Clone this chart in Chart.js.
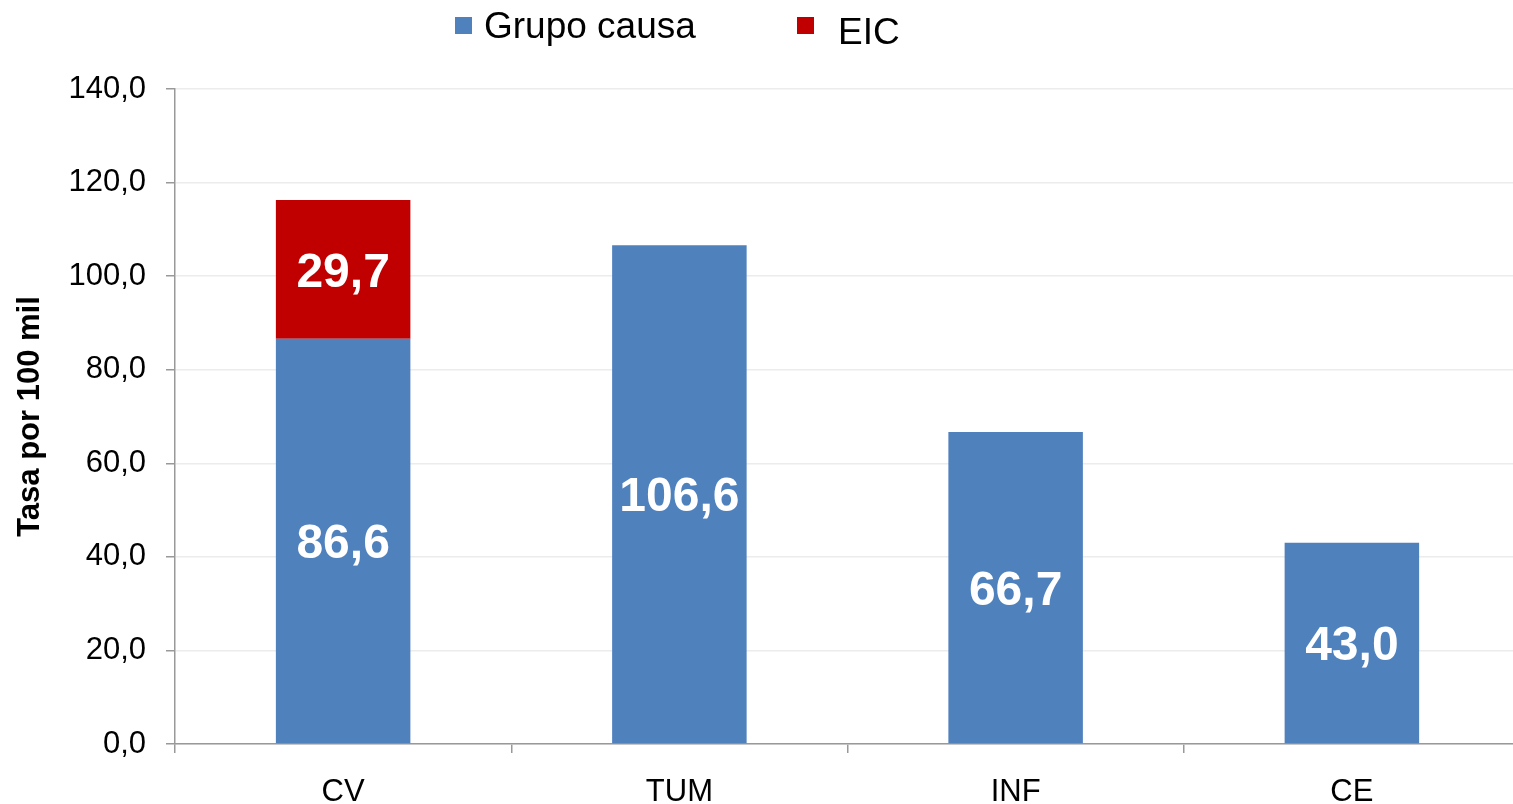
<!DOCTYPE html>
<html>
<head>
<meta charset="utf-8">
<script src="https://cdn.jsdelivr.net/npm/chart.js@4/dist/chart.umd.min.js"></script>
<style>
html,body{margin:0;padding:0;background:#fff;overflow:hidden;}
#wrap{width:1513px;height:804px;position:relative;overflow:hidden;}
</style>
</head>
<body>
<div id="wrap"><canvas id="c" width="1520" height="804"></canvas></div>
<script>
const categories = ['CV', 'TUM', 'INF', 'CE'];
const grupoCausa = [86.6, 106.6, 66.7, 43.0];
const eic = [29.7, null, null, null];
const seriesNames = ['Grupo causa', 'EIC'];
const yTicks = [0, 20, 40, 60, 80, 100, 120, 140];
const yTitle = 'Tasa por 100 mil';

const FONT = 'Arial, "Liberation Sans", Helvetica, sans-serif';
const fmt = v => Number(v).toFixed(1).replace('.', ',');

const valueLabels = {
  id: 'valueLabels',
  afterDatasetsDraw(chart) {
    const ctx = chart.ctx;
    ctx.save();
    ctx.font = 'bold 48px ' + FONT;
    ctx.fillStyle = '#ffffff';
    ctx.textAlign = 'center';
    ctx.textBaseline = 'middle';
    chart.data.datasets.forEach((ds, di) => {
      const meta = chart.getDatasetMeta(di);
      meta.data.forEach((bar, i) => {
        const v = ds.data[i];
        if (v === null || v === undefined) return;
        const p = bar.getProps(['x', 'y', 'base'], true);
        ctx.fillText(fmt(v), p.x, (p.y + p.base) / 2 + 4);
      });
    });
    ctx.restore();
  }
};

const customLegend = {
  id: 'customLegend',
  afterDraw(chart) {
    const ctx = chart.ctx;
    const items = [
      {box: [455, 17], text: [484, 28]},
      {box: [797, 17], text: [838, 34]}
    ];
    ctx.save();
    ctx.font = '37px ' + FONT;
    ctx.textBaseline = 'middle';
    ctx.textAlign = 'left';
    chart.data.datasets.forEach((ds, i) => {
      const it = items[i];
      ctx.fillStyle = ds.backgroundColor;
      ctx.fillRect(it.box[0], it.box[1], 17, 17);
      ctx.fillStyle = '#000';
      ctx.fillText(ds.label, it.text[0], it.text[1]);
    });
    ctx.restore();
  }
};

new Chart(document.getElementById('c'), {
  type: 'bar',
  data: {
    labels: categories,
    datasets: [
      {label: seriesNames[0], data: grupoCausa, backgroundColor: '#4F81BD', borderWidth: 0},
      {label: seriesNames[1], data: eic, backgroundColor: '#C00000', borderWidth: 0}
    ]
  },
  options: {
    responsive: false,
    animation: false,
    events: [],
    layout: {padding: {top: 89, left: 12, right: 0, bottom: 0}},
    datasets: {bar: {barPercentage: 0.4, categoryPercentage: 1}},
    plugins: {
      legend: {display: false},
      tooltip: {enabled: false},
      title: {display: false}
    },
    scales: {
      x: {
        stacked: true,
        offset: true,
        grid: {offset: true, drawOnChartArea: false, tickLength: 9, color: '#999', tickColor: '#999', lineWidth: 1.5},
        border: {display: true, color: '#999', width: 1.5},
        ticks: {color: '#000', font: {family: FONT, size: 31}, padding: 21},
        afterFit: s => { s.height = 60; }
      },
      y: {
        stacked: true,
        min: 0, max: 140,
        afterBuildTicks: s => { s.ticks = yTicks.map(v => ({value: v})); },
        grid: {color: '#ececec', lineWidth: 1.5, tickLength: 9, tickColor: '#999'},
        border: {display: true, color: '#999', width: 1.5},
        ticks: {color: '#000', font: {family: FONT, size: 31}, padding: 20, callback: v => fmt(v)},
        title: {display: true, text: yTitle, color: '#000', font: {family: FONT, size: 31, weight: 'bold'}, padding: {top: 0, bottom: 0}},
        afterFit: s => { s.width = 163; }
      }
    }
  },
  plugins: [valueLabels, customLegend]
});
</script>
</body>
</html>
